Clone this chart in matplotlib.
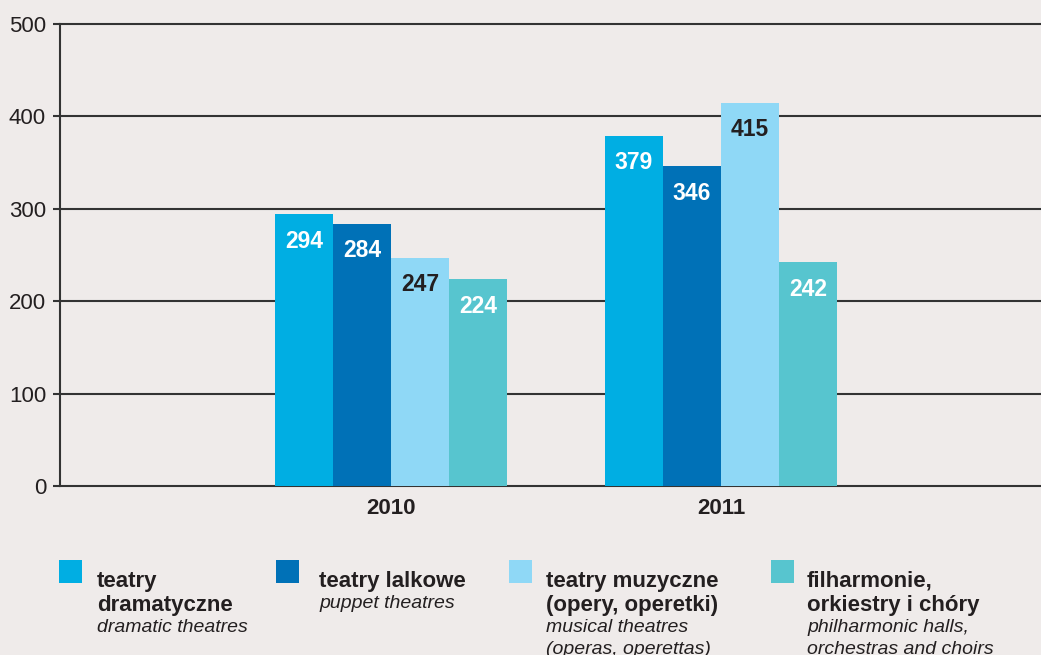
import matplotlib
matplotlib.use("Agg")
import matplotlib.pyplot as plt
from matplotlib.patches import Rectangle
import numpy as np

plt.rcParams['font.family'] = ['Liberation Sans', 'DejaVu Sans']

years = ['2010', '2011']
series_pl = ['teatry\ndramatyczne', 'teatry lalkowe', 'teatry muzyczne\n(opery, operetki)', 'filharmonie,\norkiestry i chóry']
series_en = ['dramatic theatres', 'puppet theatres', 'musical theatres\n(operas, operettas)', 'philharmonic halls,\norchestras and choirs']
values = [
    [294, 379],  # teatry dramatyczne
    [284, 346],  # teatry lalkowe
    [247, 415],  # teatry muzyczne
    [224, 242],  # filharmonie
]
colors = ['#00aee3', '#0071b7', '#8fd8f6', '#57c5cf']
label_colors = ['white', 'white', '#231f20', 'white']
yticks = [0, 100, 200, 300, 400, 500]

bg = '#efebea'
txt = '#231f20'
W, H = 1041, 655
fig = plt.figure(figsize=(W / 100, H / 100), dpi=100, facecolor=bg)
ax = fig.add_axes([60 / W, (H - 486) / H, (W - 60) / W, 462 / H])
ax.set_facecolor(bg)

x = np.arange(len(years))
bw = 58 / 330
for i, (vals, c, lc) in enumerate(zip(values, colors, label_colors)):
    xs = x + (i - 1.5) * bw
    ax.bar(xs, vals, width=bw, color=c, linewidth=0, zorder=2)
    for xv, v in zip(xs, vals):
        ax.annotate(str(v), (xv, v), xytext=(0, -27), textcoords='offset pixels',
                    ha='center', va='center', fontsize=16.5, fontweight='bold', color=lc, zorder=3)

ax.set_xlim(-1.002, 1.969)
ax.set_ylim(0, 500)
ax.set_yticks(yticks)
ax.set_xticks(x)
ax.set_xticklabels(years, fontsize=16, fontweight='bold', color=txt)
ax.tick_params(axis='x', length=0, pad=9)
ax.tick_params(axis='y', length=5, width=1.5, color='#333333', pad=5, labelsize=16, labelcolor=txt)
ax.yaxis.grid(True, color='#333333', linewidth=1.5)
for gl in ax.get_ygridlines():
    gl.set_clip_on(False)
ax.set_axisbelow(True)
for s in ['top', 'right', 'bottom']:
    ax.spines[s].set_visible(False)
ax.spines['left'].set_color('#333333')
ax.spines['left'].set_linewidth(1.5)

# legend
sq_x = [59, 276, 509, 771]
tx_x = [97, 319, 546, 807]
for i in range(4):
    fig.add_artist(Rectangle((sq_x[i] / W, (H - 583) / H), 23 / W, 23 / H,
                             transform=fig.transFigure, color=colors[i], linewidth=0))
    y = 581
    for ln in series_pl[i].split('\n'):
        fig.text(tx_x[i] / W, (H - y) / H, ln, fontsize=16, fontweight='bold', color=txt,
                 ha='left', va='center')
        y += 25
    y -= 3
    for ln in series_en[i].split('\n'):
        fig.text(tx_x[i] / W, (H - y) / H, ln, fontsize=14, style='italic', color=txt,
                 ha='left', va='center')
        y += 22

fig.savefig('out.png', dpi=100, facecolor=bg)
